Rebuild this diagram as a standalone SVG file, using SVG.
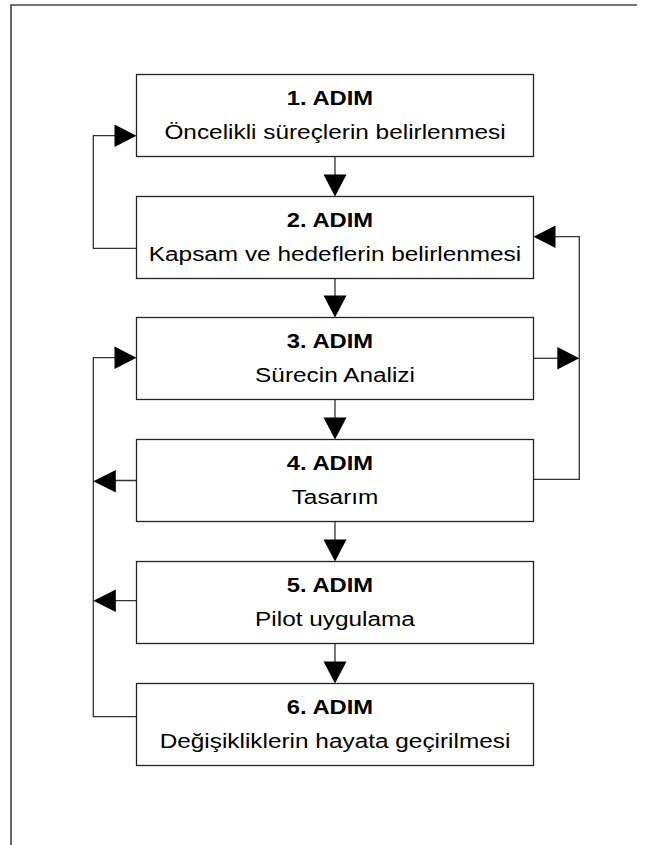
<svg xmlns="http://www.w3.org/2000/svg" width="647" height="845" viewBox="0 0 647 845">
  <defs>
    <style>
      .frame { fill: none; stroke: #444; stroke-width: 1.6; }
      .box { fill: #fff; stroke: #222; stroke-width: 1.3; }
      .wire { fill: none; stroke: #333; stroke-width: 1.3; }
      .head { fill: #000; stroke: none; }
      .title { font-family: "Liberation Sans", Arial, sans-serif; font-size: 19.5px; font-weight: bold; fill: #000; text-anchor: middle; }
      .desc { font-family: "Liberation Sans", Arial, sans-serif; font-size: 19.5px; fill: #000; text-anchor: middle; }
    </style>
  </defs>
  <rect width="647" height="845" fill="#fff"/>

  <!-- page frame: top and left edges only -->
  <path class="frame" d="M11,845 V5 H637"/>

  <!-- connectors -->
  <g id="connectors">
    <!-- straight flow 1 -> 6 -->
    <path class="wire" d="M335,156.5 V175 M335,278.5 V296 M335,399.5 V418 M335,521.5 V540 M335,643.5 V662"/>
    <polygon class="head" points="335,196.5 323.5,174.5 346.5,174.5"/>
    <polygon class="head" points="335,317.5 323.5,295.5 346.5,295.5"/>
    <polygon class="head" points="335,439.5 323.5,417.5 346.5,417.5"/>
    <polygon class="head" points="335,561.5 323.5,539.5 346.5,539.5"/>
    <polygon class="head" points="335,683.5 323.5,661.5 346.5,661.5"/>

    <!-- feedback 2 -> 1 (left) -->
    <path class="wire" d="M136.5,248.3 H93.3 V135.7 H115"/>
    <polygon class="head" points="136.5,135.7 114.5,124.5 114.5,146.9"/>

    <!-- feedback 4 -> 2 (right), with 3 joining -->
    <path class="wire" d="M533.5,479.3 H579.3 V236.7 H555"/>
    <polygon class="head" points="533.5,236.7 555.5,225.5 555.5,247.9"/>
    <path class="wire" d="M533.5,358.3 H558"/>
    <polygon class="head" points="579.3,358.3 557.3,347.1 557.3,369.5"/>

    <!-- feedback 6 -> 3 (left), with 4 and 5 joining -->
    <path class="wire" d="M136.5,716.7 H93.3 V357.7 H115"/>
    <polygon class="head" points="136.5,357.7 114.5,346.5 114.5,368.9"/>
    <path class="wire" d="M136.5,480.5 H115 M136.5,600.7 H115"/>
    <polygon class="head" points="93.3,481.2 115.8,470 115.8,492.4"/>
    <polygon class="head" points="93.3,600.7 115.8,589.5 115.8,611.9"/>
  </g>

  <!-- steps -->
  <g id="step1">
    <rect class="box" x="136.5" y="74.5" width="397" height="82"/>
    <text class="title" transform="translate(330,105) scale(1.22,1)">1. ADIM</text>
    <text class="desc" transform="translate(335,139) scale(1.25,1)">Öncelikli süreçlerin belirlenmesi</text>
  </g>
  <g id="step2">
    <rect class="box" x="136.5" y="196.5" width="397" height="82"/>
    <text class="title" transform="translate(330,227) scale(1.22,1)">2. ADIM</text>
    <text class="desc" transform="translate(335,261) scale(1.25,1)">Kapsam ve hedeflerin belirlenmesi</text>
  </g>
  <g id="step3">
    <rect class="box" x="136.5" y="317.5" width="397" height="82"/>
    <text class="title" transform="translate(330,348) scale(1.22,1)">3. ADIM</text>
    <text class="desc" transform="translate(335,382) scale(1.25,1)">Sürecin Analizi</text>
  </g>
  <g id="step4">
    <rect class="box" x="136.5" y="439.5" width="397" height="82"/>
    <text class="title" transform="translate(330,470) scale(1.22,1)">4. ADIM</text>
    <text class="desc" transform="translate(335,504) scale(1.25,1)">Tasarım</text>
  </g>
  <g id="step5">
    <rect class="box" x="136.5" y="561.5" width="397" height="82"/>
    <text class="title" transform="translate(330,592) scale(1.22,1)">5. ADIM</text>
    <text class="desc" transform="translate(335,626) scale(1.25,1)">Pilot uygulama</text>
  </g>
  <g id="step6">
    <rect class="box" x="136.5" y="683.5" width="397" height="82"/>
    <text class="title" transform="translate(330,714) scale(1.22,1)">6. ADIM</text>
    <text class="desc" transform="translate(335,748) scale(1.25,1)">Değişikliklerin hayata geçirilmesi</text>
  </g>
</svg>
